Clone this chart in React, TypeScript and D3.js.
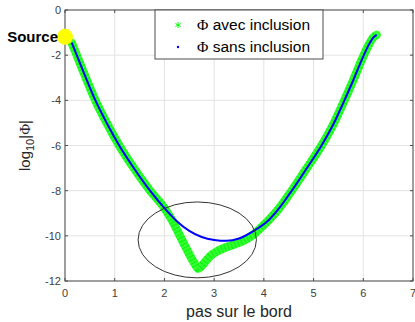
import React from "react";
import * as d3 from "d3";

// blue: sans inclusion
const pasSans = [0.135, 0.25, 0.4, 0.6, 0.85, 1.09, 1.4, 1.71, 2.0, 2.25, 2.5, 2.75, 3.0, 3.25, 3.5, 3.78, 4.1, 4.3, 4.53, 4.85, 5.16, 5.4, 5.6, 5.8, 6.0, 6.12, 6.2, 6.27];
const logSans = [-1.45, -2.08, -2.9, -3.95, -5.05, -6.0, -7.05, -8.0, -8.77, -9.35, -9.78, -10.05, -10.18, -10.22, -10.12, -9.8, -9.3, -8.8, -8.1, -7.05, -6.0, -5.05, -4.1, -3.1, -2.05, -1.5, -1.22, -1.1];

// green: avec inclusion
const pasAvec = [0.135, 0.25, 0.4, 0.6, 0.85, 1.09, 1.4, 1.71, 2.0, 2.15, 2.3, 2.45, 2.6, 2.68, 2.8, 2.92, 3.05, 3.19, 3.4, 3.6, 3.79, 3.95, 4.1, 4.3, 4.53, 4.85, 5.16, 5.4, 5.6, 5.8, 6.0, 6.12, 6.2, 6.27];
const logAvec = [-1.45, -2.08, -2.9, -3.95, -5.05, -6.0, -7.05, -8.0, -8.77, -9.3, -9.95, -10.6, -11.2, -11.45, -11.2, -10.9, -10.7, -10.55, -10.38, -10.2, -9.95, -9.62, -9.3, -8.8, -8.1, -7.05, -6.0, -5.05, -4.1, -3.1, -2.05, -1.5, -1.22, -1.1];

const xTicks = [0, 1, 2, 3, 4, 5, 6, 7];
const yTicks = [0, -2, -4, -6, -8, -10, -12];

const source = { pas: 0, log: -1.19 };
// ellipse around the inclusion zone (data units)
const ellipse = { cx: 2.66, cy: -10.18, rx: 1.19, ry: 1.68 };

const legendLabels = ["avec inclusion", "sans inclusion"];

const W = 415, H = 322;
const margin = { left: 65, right: 2, top: 10, bottom: 41 };

export default function App() {
  const x = d3.scaleLinear().domain([0, 7]).range([margin.left, W - margin.right]);
  const y = d3.scaleLinear().domain([-12, 0]).range([H - margin.bottom, margin.top]);

  const sansPath = d3
    .line<number>()
    .x((d) => x(d))
    .y((_, i) => y(logSans[i]))
    .curve(d3.curveMonotoneX)(pasSans) || "";
  const avecPath = d3
    .line<number>()
    .x((d) => x(d))
    .y((_, i) => y(logAvec[i]))
    .curve(d3.curveMonotoneX)(pasAvec) || "";

  const [x0, x1] = x.range();
  const [y0, y1] = y.range();
  const axisCol = "#4d4d4d";
  const font = "'Liberation Sans', Arial, sans-serif";

  return (
    <svg width={W} height={H} style={{ position: "absolute", left: 0, top: 0, background: "#fff" }}>
      {/* grid */}
      {xTicks.map((t) => (
        <line key={"gx" + t} x1={x(t)} x2={x(t)} y1={y1} y2={y0} stroke="#e3e3e3" strokeWidth={1} />
      ))}
      {yTicks.map((t) => (
        <line key={"gy" + t} x1={x0} x2={x1} y1={y(t)} y2={y(t)} stroke="#e3e3e3" strokeWidth={1} />
      ))}

      {/* curves */}
      <path d={avecPath} fill="none" stroke="#33ff33" strokeWidth={8.5} strokeLinejoin="round" strokeLinecap="round" />
      <path d={avecPath} fill="none" stroke="#00ee00" strokeWidth={8} strokeDasharray="1.5 2" opacity={0.6} />
      <path d={sansPath} fill="none" stroke="#0000ff" strokeWidth={2} />

      {/* ellipse */}
      <ellipse
        cx={x(ellipse.cx)}
        cy={y(ellipse.cy)}
        rx={x(ellipse.cx + ellipse.rx) - x(ellipse.cx)}
        ry={y(ellipse.cy - ellipse.ry) - y(ellipse.cy)}
        fill="none"
        stroke="#333"
        strokeWidth={1}
      />

      {/* axes box */}
      <rect x={x0} y={y1} width={x1 - x0} height={y0 - y1} fill="none" stroke={axisCol} strokeWidth={1} />
      {xTicks.map((t) => (
        <g key={"tx" + t}>
          <line x1={x(t)} x2={x(t)} y1={y0} y2={y0 - 3} stroke={axisCol} />
          <line x1={x(t)} x2={x(t)} y1={y1} y2={y1 + 3} stroke={axisCol} />
          <text x={x(t)} y={y0 + 16} textAnchor="middle" fontSize={11} fontFamily={font} fill="#404040">
            {t}
          </text>
        </g>
      ))}
      {yTicks.map((t) => (
        <g key={"ty" + t}>
          <line x1={x0} x2={x0 + 3} y1={y(t)} y2={y(t)} stroke={axisCol} />
          <line x1={x1} x2={x1 - 3} y1={y(t)} y2={y(t)} stroke={axisCol} />
          <text x={x0 - 4} y={y(t) + 4} textAnchor="end" fontSize={11} fontFamily={font} fill="#404040">
            {t}
          </text>
        </g>
      ))}

      {/* source */}
      <circle cx={x(source.pas)} cy={y(source.log)} r={8} fill="#ffff00" />
      <text x={58} y={y(source.log) + 5} textAnchor="end" fontSize={15} fontWeight="bold" fontFamily={font} fill="#000">
        Source
      </text>

      {/* axis labels */}
      <text x={(x0 + x1) / 2} y={317} textAnchor="middle" fontSize={16} fontFamily={font} fill="#262626">
        pas sur le bord
      </text>
      <text transform={`translate(30,${(y0 + y1) / 2}) rotate(-90)`} textAnchor="middle" fontSize={15} fontFamily={font} fill="#262626">
        log
        <tspan fontSize={11} dy={4}>10</tspan>
        <tspan dy={-4}>|</tspan>
        <tspan fontFamily="'Liberation Serif', serif">Φ</tspan>
        <tspan>|</tspan>
      </text>

      {/* legend */}
      <rect x={155} y={y1} width={168} height={49} fill="#fff" stroke={axisCol} strokeWidth={1} />
      {legendLabels.map((lab, i) => {
        const ly = 25 + i * 22;
        return (
          <g key={lab}>
            {i === 0 ? (
              <g stroke="#00ff00" strokeWidth={1}>
                <line x1={178} x2={178} y1={ly - 3} y2={ly + 3} />
                <line x1={175.4} x2={180.6} y1={ly - 1.5} y2={ly + 1.5} />
                <line x1={175.4} x2={180.6} y1={ly + 1.5} y2={ly - 1.5} />
              </g>
            ) : (
              <circle cx={178} cy={ly} r={1.2} fill="#0000ff" />
            )}
            <text x={197} y={ly + 5} fontSize={15.5} fontFamily={font} fill="#000">
              <tspan fontFamily="'Liberation Serif', serif">Φ</tspan> {lab}
            </text>
          </g>
        );
      })}
    </svg>
  );
}
